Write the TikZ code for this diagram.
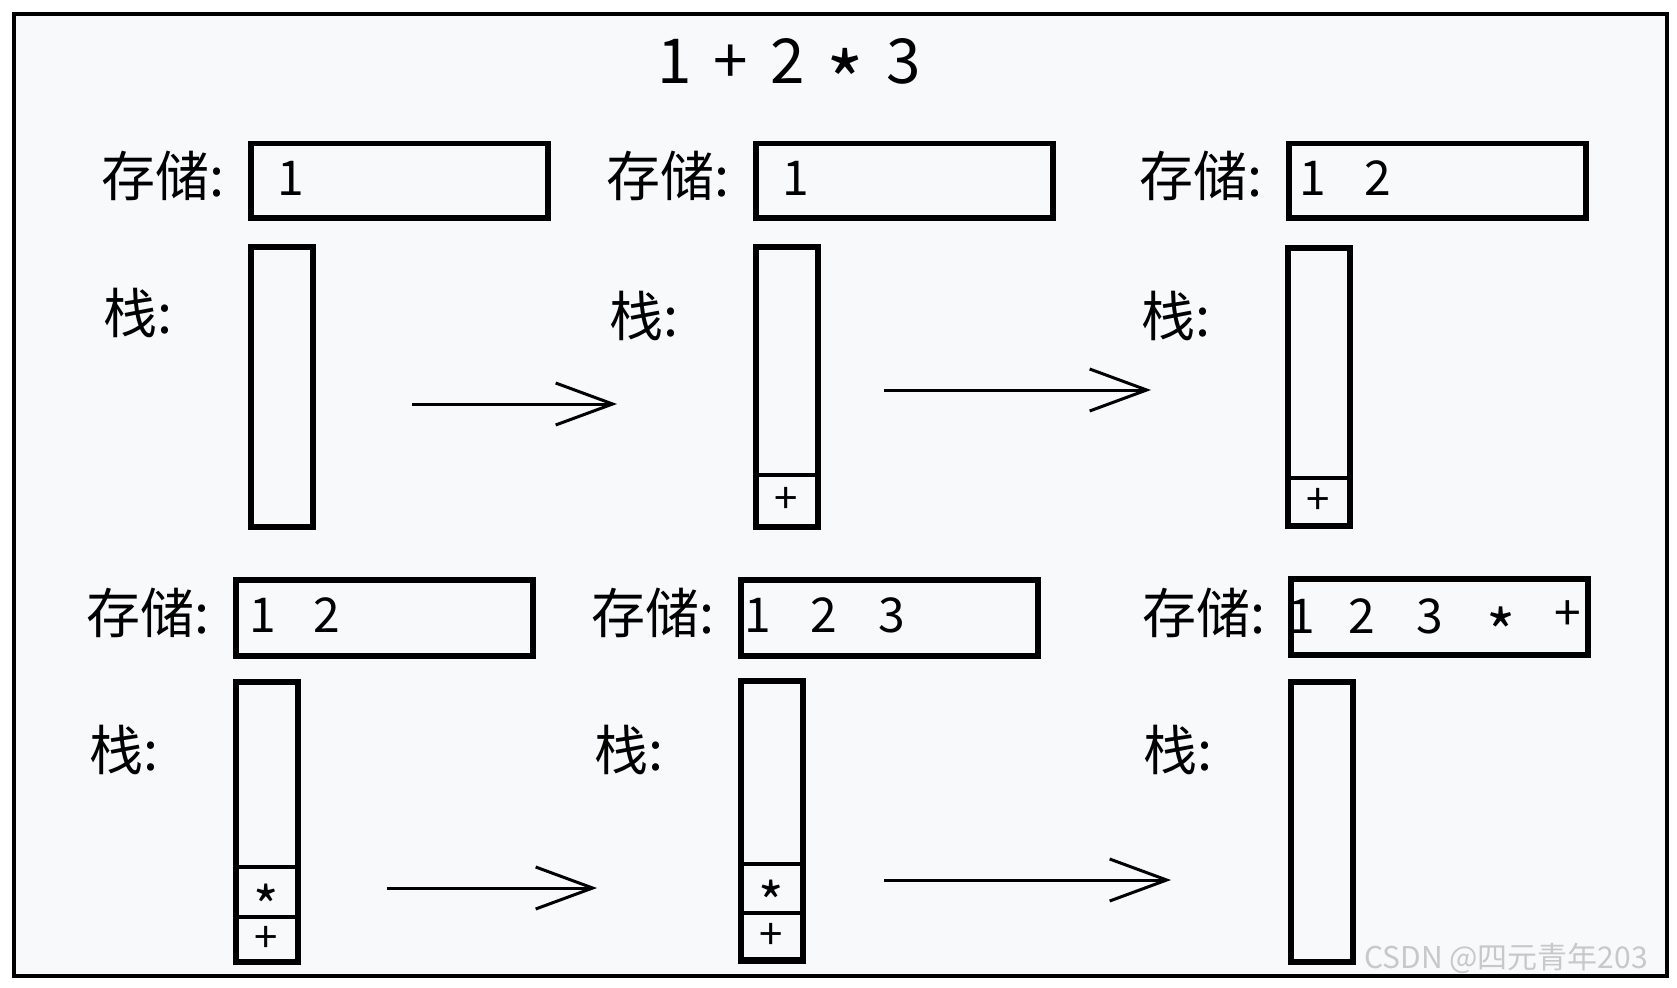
\documentclass[tikz,border=0pt]{standalone}
\usepackage{fontspec}
\usepackage{graphicx}
\setmainfont{Noto Sans CJK SC}
\usetikzlibrary{arrows.meta}
\definecolor{bgpaper}{RGB}{248,249,250}
\definecolor{wmark}{RGB}{200,200,200}
\newcommand\lowstar{\raisebox{-0.47em}[0.73em][0pt]{\scalebox{1.3}{*}}}
\begin{document}
\begin{tikzpicture}[x=1pt,y=-1pt,
  lbl/.style={font=\fontsize{54}{58}\selectfont, inner sep=0pt, anchor=west},
  storebox/.style={draw, line width=5.5pt, minimum width=297pt, minimum height=74pt, inner sep=0pt, anchor=north west},
  stackbox/.style={draw, line width=5.5pt, minimum width=62pt, minimum height=280pt, inner sep=0pt, anchor=north west},
  cellbox/.style={draw, line width=4pt, minimum width=62pt, inner sep=0pt, anchor=north west, font=\fontsize{42}{44}\selectfont},
  val/.style={font=\fontsize{48}{52}\selectfont, inner sep=0pt},
  flow/.style={line width=3pt, -{Straight Barb[length=57pt,width=42pt]}}
]
\useasboundingbox (0,0) rectangle (1677,987);
\fill[white] (0,0) rectangle (1677,987);
\node[draw, line width=4pt, fill=bgpaper, minimum width=1653pt, minimum height=962pt, inner sep=0pt, anchor=north west] (frame) at (12,12) {};

% title
\node[font=\fontsize{62}{66}\selectfont, inner sep=0pt] (title) at (789,61) {1\hspace{22pt}+\hspace{22pt}2\hspace{22pt}\lowstar\hspace{22pt}3};

% ---------- panel 1 ----------
\node[lbl] (l1a) at (101,176) {存储:};
\node[storebox] (s1) at (248,141) {};
\node[val] (s1a) at (291,178) {1};
\node[lbl] (l1b) at (103,313) {栈:};
\node[stackbox] (k1) at (248,244) {};

% ---------- panel 2 ----------
\node[lbl] (l2a) at (606,176) {存储:};
\node[storebox] (s2) at (753,141) {};
\node[val] (s2a) at (796,178) {1};
\node[lbl] (l2b) at (609,316) {栈:};
\node[stackbox] (k2) at (753,244) {};
\node[cellbox, minimum height=51pt] (k2p) at (753,473) {+};

% ---------- panel 3 ----------
\node[lbl] (l3a) at (1139,176) {存储:};
\node[storebox] (s3) at (1286,141) {};
\node[val] (s3a) at (1313,178) {1};
\node[val] (s3b) at (1378,178) {2};
\node[lbl] (l3b) at (1141,316) {栈:};
\node[stackbox, minimum height=278pt] (k3) at (1285,245) {};
\node[cellbox, minimum height=47pt] (k3p) at (1285,476) {+};

% ---------- panel 4 ----------
\node[lbl] (l4a) at (86,613) {存储:};
\node[storebox, minimum height=76pt] (s4) at (233,577) {};
\node[val] (s4a) at (263,615) {1};
\node[val] (s4b) at (327,615) {2};
\node[lbl] (l4b) at (89,750) {栈:};
\node[stackbox] (k4) at (233,679) {};
\node[cellbox, minimum height=50pt] (k4m) at (233,865) {\lowstar};
\node[cellbox, minimum height=44pt] (k4p) at (233,915) {+};

% ---------- panel 5 ----------
\node[lbl] (l5a) at (591,613) {存储:};
\node[storebox, minimum height=76pt] (s5) at (738,577) {};
\node[val] (s5a) at (758,615) {1};
\node[val] (s5b) at (824,615) {2};
\node[val] (s5c) at (892,615) {3};
\node[lbl] (l5b) at (594,750) {栈:};
\node[stackbox] (k5) at (738,678) {};
\node[cellbox, minimum height=49pt] (k5m) at (738,862) {\lowstar};
\node[cellbox, minimum height=46pt] (k5p) at (738,911) {+};

% ---------- panel 6 ----------
\node[lbl] (l6a) at (1142,613) {存储:};
\node[storebox, minimum height=76pt] (s6) at (1288,576) {};
\node[val] (s6a) at (1302,616) {1};
\node[val] (s6b) at (1362,616) {2};
\node[val] (s6c) at (1430,616) {3};
\node[val] (s6d) at (1501,616) {\lowstar};
\node[val] (s6e) at (1568,616) {+};
\node[lbl] (l6b) at (1143,750) {栈:};
\node[stackbox] (k6) at (1288,679) {};

% ---------- arrows ----------
\coordinate (a1s) at (412,404); \coordinate (a1e) at (617,404);
\coordinate (a2s) at (884,390); \coordinate (a2e) at (1151,390);
\coordinate (a3s) at (387,888); \coordinate (a3e) at (597,888);
\coordinate (a4s) at (884,880); \coordinate (a4e) at (1171,880);
\draw[flow] (a1s) -- (a1e);
\draw[flow] (a2s) -- (a2e);
\draw[flow] (a3s) -- (a3e);
\draw[flow] (a4s) -- (a4e);

% watermark
\node[font=\fontsize{30}{32}\selectfont, text=wmark, inner sep=0pt, anchor=west] (wm) at (1364,958) {CSDN @四元青年203};
\end{tikzpicture}
\end{document}
